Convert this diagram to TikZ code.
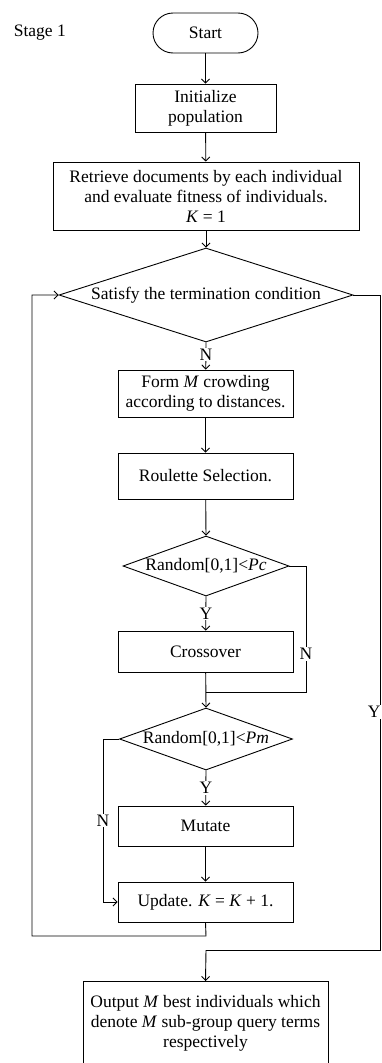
\documentclass[tikz,border=0pt]{standalone}
\usepackage{fontspec}
\setmainfont{Liberation Serif}
\usetikzlibrary{arrows.meta,shapes.geometric}
\begin{document}
\begin{tikzpicture}[x=1pt,y=-1pt,
  font=\fontsize{17.5}{20}\selectfont,
  line width=0.9pt,
  tip/.style={-{Straight Barb[length=4pt,width=8pt]}},
  box/.style={draw,rectangle,inner sep=0pt,align=center},
  dia/.style={draw,diamond,inner sep=0pt},
  lab/.style={fill=white,inner sep=1pt}]
\useasboundingbox (0,0) rectangle (382,1063);
\node[anchor=west] (stage) at (10,33) {Stage 1};
\node[box,rounded corners=20pt,minimum width=105pt,minimum height=40pt] (start) at (205.5,33) {Start};
\node[box,minimum width=141pt,minimum height=48pt] (init) at (205.5,108) {Initialize\\population};
\node[box,minimum width=306pt,minimum height=68pt] (retr) at (206,196) {Retrieve documents by each individual\\and evaluate fitness of individuals.\\\textit{K} = 1};
\node[dia,minimum width=294pt,minimum height=94pt] (d1) at (206,295) {};
\node (d1t) at (206,295) {Satisfy the termination condition};
\node[box,minimum width=175pt,minimum height=47pt] (form) at (205.5,393.5) {Form \textit{M} crowding\\according to distances.};
\node[box,minimum width=175pt,minimum height=46pt] (roul) at (205.5,476) {Roulette Selection.};
\node[dia,minimum width=166pt,minimum height=60pt] (d2) at (206,566) {};
\node (d2t) at (206,566) {Random[0,1]<\textit{Pc}};
\node[box,minimum width=175pt,minimum height=41pt] (cross) at (205.5,651.5) {Crossover};
\node[dia,minimum width=173pt,minimum height=62pt] (d3) at (206,739) {};
\node (d3t) at (206,739) {Random[0,1]<\textit{Pm}};
\node[box,minimum width=175pt,minimum height=40pt] (mut) at (205.5,826) {Mutate};
\node[box,minimum width=175pt,minimum height=40pt] (upd) at (205.5,902) {Update. \textit{K} = \textit{K} + 1.};
\node[box,minimum width=245pt,minimum height=100pt,anchor=north] (out) at (205.5,981) {};
\node[align=center] (outt) at (205.5,1023) {Output \textit{M} best individuals which\\denote \textit{M} sub-group query terms\\respectively};
% main flow
\draw[tip] (start) -- (init);
\draw[tip] (init) -- (retr);
\draw[tip] (retr) -- (d1.north);
\draw[tip] (d1.south) -- node[lab,pos=0.45] (n1) {N} (form);
\draw[tip] (form) -- (roul);
\draw[tip] (roul) -- (d2.north);
\draw[tip] (d2.south) -- node[lab,pos=0.5] (y2) {Y} (cross);
\coordinate (j1) at (206,692);
\coordinate (r2) at (306,566);
\draw (d2.east) -- (r2) -- node[lab,pos=0.7] (n2) {N} (r2 |- j1) -- (j1);
\draw[tip] (cross) -- (d3.north);
\draw[tip] (d3.south) -- node[lab,pos=0.5] (y3) {Y} (mut);
\coordinate (l3) at (103,739);
\draw[tip] (d3.west) -- (l3) -- node[lab,pos=0.5] (n3) {N} (l3 |- upd.west) -- (upd.west);
\draw[tip] (mut) -- (upd);
% loop back
\coordinate (lb) at (206,936);
\coordinate (ll) at (32,936);
\draw[tip] (upd.south) -- (lb) -- (ll) |- (d1.west);
% exit
\coordinate (re) at (380.8,295);
\coordinate (rb) at (380.8,950);
\coordinate (ob) at (206,950);
\draw (d1.east) -- (re) -- (rb) -- (ob);
\draw[tip] (ob) -- (out.north);
\node[lab,inner sep=1pt,anchor=east] (y1) at (382,712) {Y};
\end{tikzpicture}
\end{document}
